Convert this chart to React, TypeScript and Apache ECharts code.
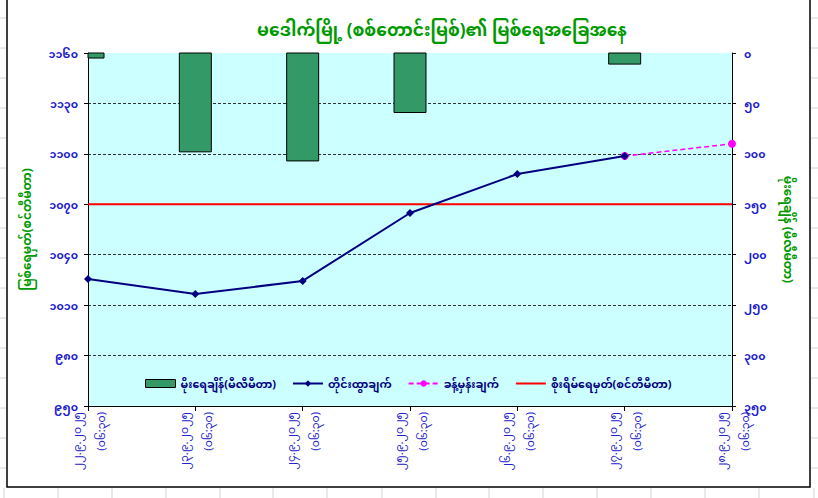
import React, { useEffect, useRef } from "react";
import * as echarts from "echarts";

const categories = [
  "၂၂.၉.၂၀၂၅\n(၀၆:၃၀)",
  "၂၃.၉.၂၀၂၅\n(၀၆:၃၀)",
  "၂၄.၉.၂၀၂၅\n(၀၆:၃၀)",
  "၂၅.၉.၂၀၂၅\n(၀၆:၃၀)",
  "၂၆.၉.၂၀၂၅\n(၀၆:၃၀)",
  "၂၇.၉.၂၀၂၅\n(၀၆:၃၀)",
  "၂၈.၉.၂၀၂၅\n(၀၆:၃၀)",
];
const rainfall = [5, 98, 107, 59, 0, 11, 0];
const observedLevel = [1025.6, 1016.6, 1024.4, 1064.8, 1088, 1098.7, null];
const forecastLevel = [null, null, null, null, null, 1098.7, 1106];
const dangerLevel = [1070, 1070, 1070, 1070, 1070, 1070, 1070];

const levelMin = 950;
const levelMax = 1160;
const levelStep = 30;
const rainMax = 350;
const rainStep = 50;

const seriesNames = [
  "မိုးရေချိန်(မီလီမီတာ)",
  "တိုင်းထွာချက်",
  "ခန့်မှန်းချက်",
  "စိုးရိမ်ရေမှတ်(စင်တီမီတာ)",
];
const titleText = "မဒေါက်မြို့ (စစ်တောင်းမြစ်)၏ မြစ်ရေအခြေအနေ";
const leftAxisName = "မြစ်ရေမှတ်(စင်တီမီတာ)";
const rightAxisName = "မိုးရေချိန် (မီလီမီတာ)";

const toMM = (s: string | number) =>
  String(s).replace(/[0-9]/g, (d) => String.fromCharCode(0x1040 + Number(d)));

const FONT = "'Noto Sans', 'Noto Sans Myanmar', Padauk, 'DejaVu Sans', sans-serif";
const BAR_W = 32;

export default function App() {
  const ref = useRef<HTMLDivElement>(null);
  useEffect(() => {
    if (!ref.current) return;
    const chart = echarts.init(ref.current, undefined, { renderer: "svg" });
    const shift = (arr: (number | null)[]) =>
      arr.map((v) => (v == null ? null : Math.round((v - levelMin) * 10) / 10));

    const gridLines: any[] = [];
    const vx = [4, 58, 112, 166, 220, 273, 327, 382, 436, 489, 543, 597, 651, 705, 759, 814];
    vx.forEach((x) =>
      gridLines.push({
        type: "line",
        shape: { x1: x, y1: 488, x2: x, y2: 498 },
        style: { stroke: "#d4d4d4", lineWidth: 1 },
        silent: true,
      })
    );
    for (let y = 18; y < 498; y += 30) {
      gridLines.push({
        type: "line",
        shape: { x1: 0, y1: y, x2: 6, y2: y },
        style: { stroke: "#d4d4d4", lineWidth: 1 },
        silent: true,
      });
      gridLines.push({
        type: "line",
        shape: { x1: 811, y1: y, x2: 818, y2: y },
        style: { stroke: "#d4d4d4", lineWidth: 1 },
        silent: true,
      });
    }

    const barStyle = { color: "#339966", borderColor: "#000000", borderWidth: 1 };

    chart.setOption({
      animation: false,
      backgroundColor: "#ffffff",
      textStyle: { fontFamily: FONT },
      title: {
        text: titleText,
        left: 437,
        textAlign: "center",
        top: 16,
        textStyle: { color: "#009900", fontSize: 17, fontWeight: "bold", fontFamily: FONT },
      },
      graphic: [
        ...gridLines,
        {
          type: "rect",
          shape: { x: 7, y: -2, width: 803, height: 489 },
          style: { fill: "none", stroke: "#000000", lineWidth: 1.5 },
          silent: true,
        },
      ],
      legend: {
        left: 140,
        top: 373,
        itemGap: 16,
        itemWidth: 30,
        itemHeight: 8,
        textStyle: { color: "#000080", fontSize: 11, fontWeight: "bold", fontFamily: FONT },
        data: [
          { name: seriesNames[0], icon: "rect", itemStyle: barStyle },
          { name: seriesNames[1] },
          { name: seriesNames[2] },
          { name: seriesNames[3], itemStyle: { opacity: 0 } },
        ],
      },
      grid: {
        left: 88,
        right: 86,
        top: 53,
        bottom: 92,
        show: true,
        backgroundColor: "#CCFFFF",
        borderWidth: 0,
      },
      xAxis: {
        type: "category",
        data: categories,
        boundaryGap: false,
        axisLine: { lineStyle: { color: "#000000", width: 1 } },
        axisTick: { alignWithLabel: true, length: 5, lineStyle: { color: "#000" } },
        axisLabel: {
          rotate: 90,
          interval: 0,
          color: "#2020CC",
          fontSize: 11,
          fontFamily: FONT,
          lineHeight: 24,
          margin: 6,
        },
        splitLine: { show: false },
      },
      yAxis: [
        {
          type: "value",
          min: 0,
          max: levelMax - levelMin,
          interval: levelStep,
          position: "left",
          name: leftAxisName,
          nameLocation: "middle",
          nameRotate: 90,
          nameGap: 56,
          nameTextStyle: { color: "#009900", fontSize: 12, fontWeight: "bold", fontFamily: FONT },
          axisLine: { show: true, lineStyle: { color: "#000000" } },
          axisTick: { show: true, inside: false, length: 4, lineStyle: { color: "#000" } },
          axisLabel: {
            color: "#2020CC",
            fontSize: 11,
            fontWeight: "bold",
            fontFamily: FONT,
            margin: 10,
            formatter: (v: number) => toMM(v + levelMin),
          },
          splitLine: {
            show: true,
            showMaxLine: false,
            lineStyle: { color: "#000000", type: [3, 2], width: 0.8 },
          },
        },
        {
          type: "value",
          min: 0,
          max: rainMax,
          interval: rainStep,
          inverse: true,
          position: "right",
          name: rightAxisName,
          nameLocation: "middle",
          nameRotate: -90,
          nameGap: 50,
          nameTextStyle: { color: "#009900", fontSize: 12, fontWeight: "bold", fontFamily: FONT },
          axisLine: { show: true, lineStyle: { color: "#000000" } },
          axisTick: { show: true, length: 4, lineStyle: { color: "#000" } },
          axisLabel: {
            color: "#2020CC",
            fontSize: 11,
            fontWeight: "bold",
            fontFamily: FONT,
            margin: 12,
            formatter: (v: number) => toMM(v),
          },
          splitLine: { show: false },
        },
      ],
      series: [
        {
          name: seriesNames[0],
          type: "custom",
          yAxisIndex: 1,
          data: rainfall.map((v, i) => [i, v]),
          encode: { x: 0, y: 1 },
          itemStyle: barStyle,
          z: 2,
          renderItem: (params: any, api: any) => {
            const val = api.value(1);
            if (!val) return null;
            const top = api.coord([api.value(0), 0]);
            const bot = api.coord([api.value(0), val]);
            const cs = params.coordSys;
            const rect = echarts.graphic.clipRectByRect(
              { x: top[0] - BAR_W / 2, y: top[1], width: BAR_W, height: bot[1] - top[1] },
              { x: cs.x, y: cs.y, width: cs.width, height: cs.height }
            );
            if (!rect) return null;
            return {
              type: "rect",
              shape: rect,
              style: { fill: "#339966", stroke: "#000000", lineWidth: 1 },
            };
          },
        },
        {
          name: seriesNames[3],
          type: "line",
          yAxisIndex: 0,
          data: shift(dangerLevel),
          symbol: "none",
          lineStyle: { color: "#FF0000", width: 2 },
          itemStyle: { color: "#FF0000" },
          z: 3,
        },
        {
          name: seriesNames[2],
          type: "line",
          yAxisIndex: 0,
          data: shift(forecastLevel),
          symbol: "circle",
          symbolSize: 8,
          connectNulls: false,
          lineStyle: { color: "#FF00FF", width: 1.5, type: [5, 3] },
          itemStyle: { color: "#FF00FF" },
          z: 4,
        },
        {
          name: seriesNames[1],
          type: "line",
          yAxisIndex: 0,
          data: shift(observedLevel),
          symbol: "diamond",
          symbolSize: 8,
          lineStyle: { color: "#000080", width: 2 },
          itemStyle: { color: "#000080" },
          z: 5,
        },
      ],
    });
    return () => chart.dispose();
  }, []);
  return (
    <div
      ref={ref}
      style={{ position: "absolute", left: 0, top: 0, width: 818, height: 498 }}
    />
  );
}
